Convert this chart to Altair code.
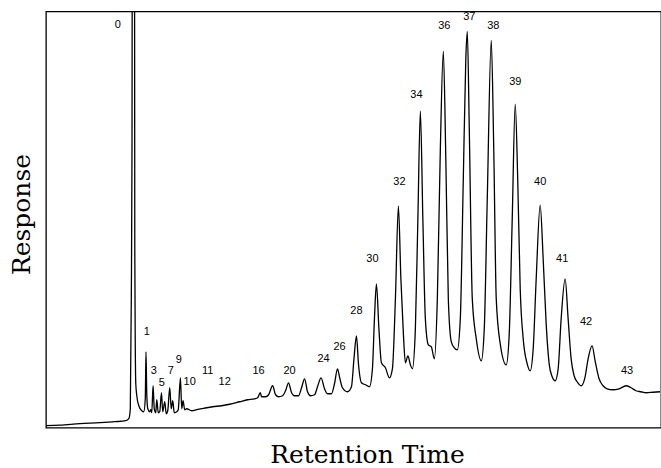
import altair as alt
import pandas as pd

# Chromatogram trace (retention time in arbitrary minutes, response in arbitrary units)
times = [0.0, 1.4, 3.4, 5.4, 6.9, 8.0, 8.3, 8.45, 8.55, 8.62, 8.65, 8.73, 8.85, 8.88,
         8.9, 8.95, 9.0, 9.1, 9.3, 9.6, 9.8, 9.95, 10.02, 10.1, 10.2, 10.4, 10.5, 10.6,
         10.73, 10.85, 11.0, 11.1, 11.25, 11.4, 11.57, 11.7, 11.9, 12.05, 12.2, 12.4,
         12.55, 12.7, 12.85, 13.1, 13.25, 13.47, 13.6, 13.73, 13.9, 14.1, 14.6, 15.1,
         15.6, 16.1, 16.7, 17.6, 18.4, 19.4, 20.2, 20.9, 21.2, 21.47, 21.6, 22.0, 22.3,
         22.7, 23.0, 23.3, 23.7, 24.0, 24.3, 24.6, 24.9, 25.3, 25.6, 25.9, 26.2, 26.5,
         26.9, 27.2, 27.55, 27.9, 28.2, 28.6, 28.9, 29.2, 29.4, 29.7, 30.2, 30.6, 30.85,
         31.1, 31.3, 31.6, 32.0, 32.4, 32.7, 32.9, 33.1, 33.35, 33.6, 34.0, 34.4, 34.7,
         35.0, 35.3, 35.55, 35.8, 36.0, 36.25, 36.5, 36.7, 37.0, 37.25, 37.5, 37.75,
         38.0, 38.3, 38.6, 38.9, 39.2, 39.5, 39.8, 40.05, 40.3, 40.6, 40.9, 41.2, 41.5,
         41.8, 42.05, 42.2, 42.4, 42.7, 43.1, 43.6, 43.9, 44.2, 44.6, 44.85, 45.1, 45.5,
         46.1, 46.4, 46.7, 47.0, 47.25, 47.5, 47.8, 48.2, 48.5, 48.8, 49.1, 49.5, 49.8,
         50.1, 50.4, 50.7, 51.0, 51.3, 51.6, 52.0, 52.3, 52.6, 52.9, 53.2, 53.6, 54.0,
         54.3, 54.7, 55.0, 55.4, 55.8, 56.2, 56.8, 57.4, 58.1, 58.6, 59.1, 59.6, 60.1,
         60.8, 61.5]
responses = [2, 2.5, 4, 5, 6, 7, 9, 19, 129, 279, 529, 729, 529, 418,
             179, 79, 44, 32, 22, 17, 16, 29, 76, 34, 19, 16, 18, 15,
             42, 19, 15, 28, 15, 16, 35, 16, 26, 14, 17, 40,
             19, 27, 15, 16, 18, 50, 19, 27, 18, 19, 17, 18,
             19, 20, 21, 22, 23.5, 26, 28, 29, 30, 35, 31, 31, 33,
             42, 33, 31, 32, 37, 45, 35, 32, 32, 40, 49, 36, 32,
             33, 41, 50, 39, 34, 34, 44, 59, 51, 40, 36, 41, 69,
             92, 64, 45, 43, 41, 59, 109, 144, 99, 65, 60, 50, 59,
             129, 222, 149, 94, 65, 72, 63, 59, 99, 209, 317, 209,
             109, 83, 81, 69, 129, 279, 377, 269, 129, 86, 80, 78, 109,
             249, 369, 397, 299, 129, 89, 67, 99, 229, 388, 279, 129, 84,
             63, 94, 209, 324, 249, 139, 89, 64, 57, 79, 149, 223, 169,
             104, 64, 51, 47, 59, 109, 149, 109, 69, 52, 46, 42, 51,
             69, 82, 67, 49, 42, 39, 38, 39, 42, 40, 37, 36, 35,
             35.5, 36]

# Peak labels
label_text = ["0", "1", "3", "5", "7", "9", "10", "11", "12", "16", "20", "24", "26",
              "28", "30", "32", "34", "36", "37", "38", "39", "40", "41", "42", "43"]
label_time = [7.2, 10.1, 10.8, 11.6, 12.5, 13.3, 14.4, 16.2, 17.9, 21.3, 24.4, 27.8, 29.4,
              31.1, 32.7, 35.4, 37.1, 39.9, 42.4, 44.8, 47.0, 49.5, 51.7, 54.1, 58.2]
label_resp = [403, 96, 57, 45, 57, 68, 46, 57, 46, 57, 57, 69, 81,
              117, 169, 246, 333, 402, 411, 402, 346, 246, 169, 106, 57]

trace = pd.DataFrame({"t": times, "r": responses})
labels = pd.DataFrame({"t": label_time, "r": label_resp, "txt": label_text})

xscale = alt.Scale(domain=[0, 61.6], nice=False, zero=False)
yscale = alt.Scale(domain=[0, 417], nice=False, zero=False)

xaxis = alt.Axis(title="Retention Time", labels=False, ticks=False, domain=False, grid=False,
                 titleFont="DejaVu Serif", titleFontSize=25, titleFontWeight="normal",
                 titleColor="black", titleAlign="center", titleBaseline="alphabetic",
                 titleX=321.5, titleY=34.5)
yaxis = alt.Axis(title="Response", labels=False, ticks=False, domain=False, grid=False,
                 titleFont="DejaVu Serif", titleFontSize=25, titleFontWeight="normal",
                 titleColor="black", titleAlign="center", titleBaseline="alphabetic",
                 titleAngle=-90, titleX=-16, titleY=203)

line = alt.Chart(trace).mark_line(color="black", strokeWidth=1.3, clip=True,
                                  interpolate="monotone").encode(
    x=alt.X("t:Q", scale=xscale, axis=xaxis),
    y=alt.Y("r:Q", scale=yscale, axis=yaxis),
    order="t:Q",
)

text = alt.Chart(labels).mark_text(font="Liberation Sans", fontSize=11, color="black",
                                   align="center", baseline="middle").encode(
    x=alt.X("t:Q", scale=xscale),
    y=alt.Y("r:Q", scale=yscale),
    text="txt:N",
)

chart = alt.layer(line, text).properties(
    width=616, height=417,
    padding={"left": 46, "top": 11, "right": 0, "bottom": 40},
    autosize=alt.AutoSizeParams(type="none"),
    background="white",
).configure_view(stroke="black", strokeWidth=1.3)

chart.save("out.html", embed_options={"renderer": "svg", "actions": False})
